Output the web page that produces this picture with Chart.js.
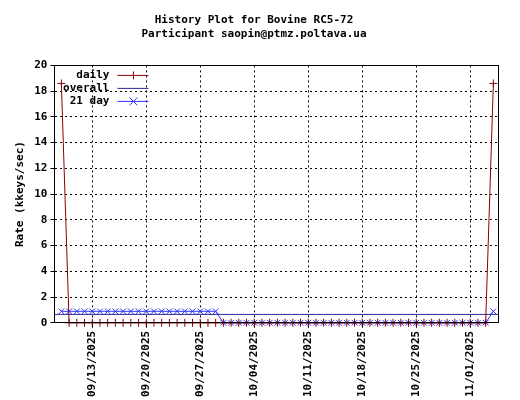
<!DOCTYPE html>
<html><head><meta charset="utf-8">
<script src="https://cdn.jsdelivr.net/npm/chart.js@4"></script>
<style>html,body{margin:0;background:#fff}#w{width:520px;height:400px}</style>
</head><body><div id="w"><canvas id="c"></canvas></div>
<script>
const startDate = "09/09/2025";
const dayIndex = [0,1,2,3,4,5,6,7,8,9,10,11,12,13,14,15,16,17,18,19,20,21,22,23,24,25,26,27,28,29,30,31,32,33,34,35,36,37,38,39,40,41,42,43,44,45,46,47,48,49,50,51,52,53,54,55,56];
const daily = [18.6,0,0,0,0,0,0,0,0,0,0,0,0,0,0,0,0,0,0,0,0,0,0,0,0,0,0,0,0,0,0,0,0,0,0,0,0,0,0,0,0,0,0,0,0,0,0,0,0,0,0,0,0,0,0,0,18.6];
const day21 = [0.89,0.89,0.89,0.89,0.89,0.89,0.89,0.89,0.89,0.89,0.89,0.89,0.89,0.89,0.89,0.89,0.89,0.89,0.89,0.89,0.89,0,0,0,0,0,0,0,0,0,0,0,0,0,0,0,0,0,0,0,0,0,0,0,0,0,0,0,0,0,0,0,0,0,0,0,0.89];
const overallValue = 0.65;
const tickDays = [4,11,18,25,32,39,46,53];
const tickLabels = ["09/13/2025","09/20/2025","09/27/2025","10/04/2025","10/11/2025","10/18/2025","10/25/2025","11/01/2025"];
const yTicks = [0,2,4,6,8,10,12,14,16,18,20];
const font = "'DejaVu Sans Mono', monospace";

const legendPlugin = {
  id:'lg',
  afterDraw(ch){
    const c=ch.ctx, a=ch.chartArea;
    c.save();
    c.strokeStyle="#000"; c.lineWidth=1; c.setLineDash([]);
    c.strokeRect(Math.round(a.left)+0.5,Math.round(a.top)+0.5,Math.round(a.right-a.left),Math.round(a.bottom-a.top));
    const items=[["daily","#8b0000","plus"],["overall","#2a2a9a","none"],["21 day","#3333ff","x"]];
    c.font="bold 11px "+font; c.textAlign="right"; c.textBaseline="middle";
    items.forEach((it,i)=>{
      const y=a.top+10+i*13;
      c.fillStyle="#000"; c.fillText(it[0],a.left+55,y);
      c.strokeStyle=it[1];
      c.beginPath(); c.moveTo(a.left+63,y); c.lineTo(a.left+94,y); c.stroke();
      const m=a.left+79;
      if(it[2]==="plus"){c.beginPath();c.moveTo(m,y-4);c.lineTo(m,y+4);c.stroke();}
      if(it[2]==="x"){c.beginPath();c.moveTo(m-4,y-4);c.lineTo(m+4,y+4);c.moveTo(m+4,y-4);c.lineTo(m-4,y+4);c.stroke();}
    });
    c.restore();
  }
};

new Chart(document.getElementById('c'),{
  type:'line',
  data:{datasets:[
    {label:'daily',data:dayIndex.map((d,i)=>({x:d,y:daily[i]})),borderColor:'#8b0000',borderWidth:1,pointStyle:'cross',pointRadius:4,pointBorderColor:'#8b0000',pointBorderWidth:1,tension:0,clip:false},
    {label:'overall',data:[{x:-0.9,y:overallValue},{x:56.6,y:overallValue}],borderColor:'#2a2a9a',borderWidth:1,pointRadius:0,tension:0},
    {label:'21 day',data:dayIndex.map((d,i)=>({x:d,y:day21[i]})),borderColor:'#3333ff',borderWidth:1,pointStyle:'crossRot',pointRadius:4,pointBorderColor:'#3333ff',pointBorderWidth:1,tension:0,clip:false}
  ]},
  options:{
    responsive:true,maintainAspectRatio:false,animation:false,
    layout:{padding:{right:22,top:2,left:10}},
    plugins:{
      legend:{display:false},tooltip:{enabled:false},
      title:{display:true,text:["History Plot for Bovine RC5-72","Participant saopin@ptmz.poltava.ua"],color:'#000',font:{family:font,size:11,weight:'bold',lineHeight:1.2},padding:{top:12,bottom:25}}
    },
    scales:{
      x:{type:'linear',min:-0.9,max:56.6,
        afterBuildTicks:s=>{s.ticks=tickDays.map(v=>({value:v}));},
        ticks:{callback:(v)=>tickLabels[tickDays.indexOf(v)],maxRotation:90,minRotation:90,color:'#000',font:{family:font,size:11,weight:'bold'},autoSkip:false},
        grid:{color:'#000',lineWidth:1,tickLength:5,drawTicks:true},
        border:{color:'#000',dash:[2,3]}
      },
      y:{min:0,max:20,
        afterBuildTicks:s=>{s.ticks=yTicks.map(v=>({value:v}));},
        ticks:{color:'#000',font:{family:font,size:11,weight:'bold'}},
        grid:{color:'#000',lineWidth:1,tickLength:4},
        border:{color:'#000',dash:[2,3]},
        title:{display:true,text:'Rate (kkeys/sec)',color:'#000',font:{family:font,size:11,weight:'bold'}}
      }
    }
  },
  plugins:[legendPlugin]
});
</script></body></html>
